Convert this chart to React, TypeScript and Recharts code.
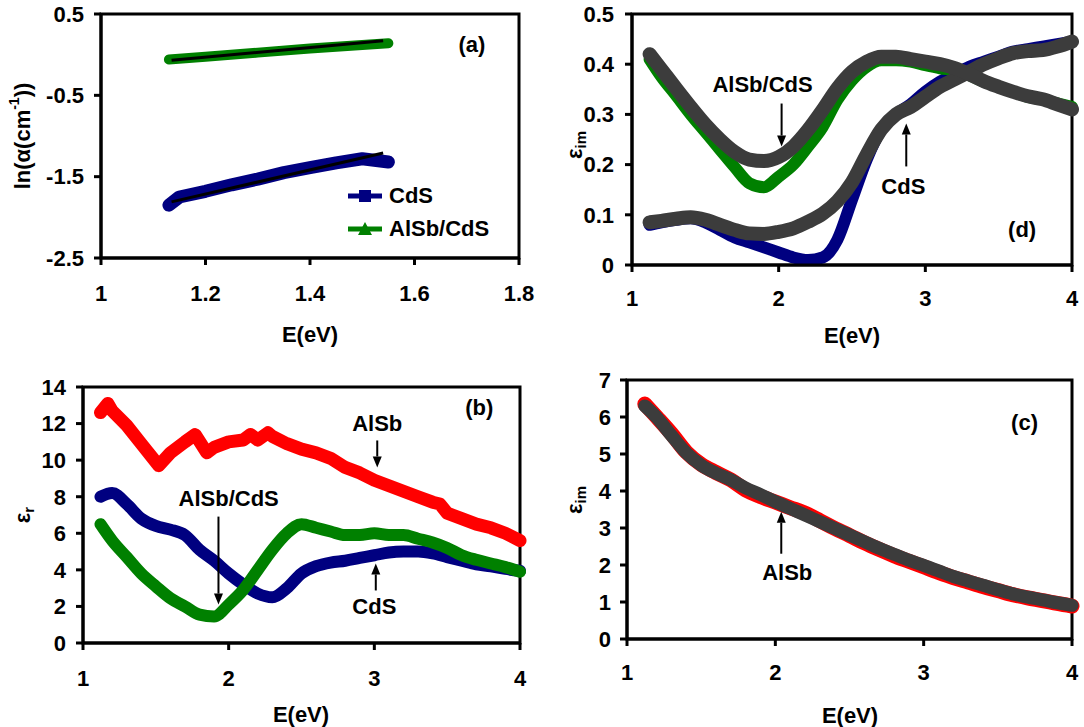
import { Legend, Line, LineChart, ReferenceArea, ReferenceDot, XAxis, YAxis } from "recharts"

const FONT = '"Liberation Sans", Arial, Helvetica, sans-serif'
const NAVY = "#000080"
const GREEN = "#008000"
const RED = "#ff0000"
const GRAY = "#3c3c3c"

// (a) ln(alpha) vs E
const absCdsE = [1.13, 1.15, 1.2, 1.25, 1.3, 1.35, 1.4, 1.45, 1.5, 1.55]
const absCdsLn = [-1.85, -1.75, -1.68, -1.6, -1.53, -1.45, -1.39, -1.33, -1.28, -1.32]
const absAlsbE = [1.13, 1.2, 1.3, 1.4, 1.5, 1.55]
const absAlsbLn = [-0.06, -0.025, 0.025, 0.075, 0.12, 0.14]
const absFitE = [1.135, 1.54]
const absCdsFit = [-1.81, -1.21]
const absAlsbFit = [-0.07, 0.17]
const absTicksX = [1, 1.2, 1.4, 1.6, 1.8]
const absTicksY = [-2.5, -1.5, -0.5, 0.5]
const legendOrder = ["CdS", "AlSb/CdS"]

// shared energy grid for (b), (c), (d)
const eGrid = [
  1.12, 1.2, 1.3, 1.4, 1.5, 1.6, 1.7, 1.8, 1.9, 2.0, 2.1, 2.2, 2.3, 2.4, 2.5,
  2.6, 2.7, 2.8, 2.9, 3.0, 3.1, 3.2, 3.3, 3.4, 3.5, 3.6, 3.7, 3.8, 3.9, 4.0,
]
const eTicks = [1, 2, 3, 4]

// (d) eps_im of CdS and AlSb/CdS with fits
const imCds = [
  0.08, 0.085, 0.09, 0.093, 0.085, 0.07, 0.055, 0.045, 0.035, 0.025, 0.015, 0.01, 0.015, 0.05, 0.13,
  0.21, 0.27, 0.3, 0.32, 0.345, 0.365, 0.38, 0.395, 0.405, 0.415, 0.425, 0.43, 0.435, 0.44, 0.445,
]
const imCdsFit = [
  0.085, 0.088, 0.092, 0.095, 0.09, 0.08, 0.07, 0.063, 0.062, 0.066, 0.073, 0.086, 0.102, 0.127, 0.165,
  0.22, 0.27, 0.3, 0.315, 0.335, 0.355, 0.37, 0.385, 0.4, 0.412, 0.422, 0.426, 0.428, 0.435, 0.445,
]
const imAlsbCds = [
  0.41, 0.375, 0.338, 0.3, 0.265, 0.23, 0.195, 0.163, 0.155, 0.176, 0.2, 0.236, 0.275, 0.329, 0.368,
  0.395, 0.408, 0.408, 0.405, 0.398, 0.392, 0.388, 0.378, 0.365, 0.355, 0.345, 0.335, 0.33, 0.322, 0.315,
]
const imAlsbCdsFit = [
  0.42, 0.39, 0.352, 0.315, 0.28, 0.25, 0.225, 0.21, 0.207, 0.215, 0.236, 0.269, 0.309, 0.352, 0.385,
  0.405, 0.415, 0.415, 0.41, 0.405, 0.4, 0.392, 0.38, 0.366, 0.355, 0.345, 0.336, 0.33, 0.32, 0.31,
]
const imTicksY = [0, 0.1, 0.2, 0.3, 0.4, 0.5]

// (b) eps_r
const reAlsbE = [
  1.12, 1.17, 1.2, 1.3, 1.4, 1.52, 1.6, 1.7, 1.77, 1.85, 1.9, 2.0, 2.1, 2.15, 2.2, 2.27, 2.3, 2.4,
  2.5, 2.6, 2.7, 2.8, 2.9, 3.0, 3.1, 3.2, 3.3, 3.4, 3.45, 3.5, 3.6, 3.7, 3.8, 3.9, 4.0,
]
const reAlsb = [
  12.6, 13.1, 12.7, 11.9, 10.9, 9.7, 10.4, 11.0, 11.4, 10.4, 10.7, 11.0, 11.1, 11.4, 11.1, 11.5, 11.3, 10.9,
  10.6, 10.4, 10.1, 9.6, 9.3, 8.9, 8.6, 8.3, 8.0, 7.7, 7.6, 7.1, 6.8, 6.5, 6.3, 6.0, 5.6,
]
const reCds = [
  8.0, 8.2, 7.6, 6.8, 6.4, 6.2, 5.9, 5.1, 4.5, 3.8, 3.2, 2.7, 2.5, 3.0, 3.8,
  4.2, 4.4, 4.5, 4.65, 4.8, 4.95, 5.0, 5.0, 4.9, 4.7, 4.5, 4.3, 4.2, 4.05, 3.95,
]
const reAlsbCds = [
  6.5, 5.6, 4.7, 3.8, 3.1, 2.45, 2.0, 1.55, 1.45, 2.1, 2.9, 4.0, 5.1, 6.0, 6.5,
  6.3, 6.1, 5.9, 5.9, 6.0, 5.9, 5.9, 5.7, 5.5, 5.2, 4.8, 4.55, 4.35, 4.15, 3.9,
]
const reTicksY = [0, 2, 4, 6, 8, 10, 12, 14]

// (c) eps_im of AlSb with fit
const imAlsb = [
  6.35, 6.0, 5.55, 5.05, 4.72, 4.5, 4.3, 4.03, 3.85, 3.7, 3.55, 3.4, 3.2, 2.99, 2.8,
  2.6, 2.42, 2.25, 2.1, 1.95, 1.8, 1.66, 1.54, 1.42, 1.31, 1.2, 1.11, 1.04, 0.96, 0.89,
]
const imAlsbFit = [
  6.3, 5.99, 5.5, 5.03, 4.7, 4.48, 4.3, 4.08, 3.9, 3.71, 3.53, 3.35, 3.17, 2.99, 2.81,
  2.63, 2.45, 2.29, 2.13, 1.99, 1.84, 1.69, 1.57, 1.45, 1.33, 1.22, 1.13, 1.06, 0.98, 0.91,
]
const alsbTicksY = [0, 1, 2, 3, 4, 5, 6, 7]

const pts = (xs: number[], ys: number[]) => xs.map((x, i) => ({ x, y: ys[i] }))

const tickStyle = { fill: "#000", fontSize: 22, fontWeight: 700, fontFamily: FONT }
const blackLine = { stroke: "#000", strokeWidth: 3 }
const textStyle = { fontFamily: FONT, fontWeight: 700, fontSize: 22, fill: "#000" }

function XTitle({ px, py }: any) {
  return (
    <text x={px} y={py} textAnchor="middle" dominantBaseline="central" style={textStyle}>
      E(eV)
    </text>
  )
}

function YTitle({ px, py, children }: any) {
  return (
    <text
      x={px}
      y={py}
      textAnchor="middle"
      dominantBaseline="central"
      transform={`rotate(-90, ${px}, ${py})`}
      style={textStyle}
    >
      {children}
    </text>
  )
}

function Note({ cx, cy, text }: any) {
  return (
    <text x={cx} y={cy} textAnchor="middle" dominantBaseline="central" style={textStyle}>
      {text}
    </text>
  )
}

// arrow with its tip at (cx, cy)
function Arrow({ cx, cy, len, up }: any) {
  const tail = up ? cy + len : cy - len
  const base = up ? cy + 11 : cy - 11
  return (
    <g>
      <line x1={cx} y1={tail} x2={cx} y2={base} stroke="#000" strokeWidth={2} />
      <path d={`M${cx},${cy} L${cx - 4.5},${base} L${cx + 4.5},${base} Z`} fill="#000" />
    </g>
  )
}

function AbsLegend({ payload }: any) {
  const items = (payload ?? [])
    .filter((p: any) => legendOrder.includes(p.value))
    .sort((a: any, b: any) => legendOrder.indexOf(a.value) - legendOrder.indexOf(b.value))
  return (
    <div style={{ fontFamily: FONT, fontWeight: 700, fontSize: 22, color: "#000" }}>
      {items.map((p: any) => (
        <div key={p.value} style={{ display: "flex", alignItems: "center", height: 33 }}>
          <svg width={38} height={16}>
            <line x1={2} y1={8} x2={36} y2={8} stroke={p.color} strokeWidth={5} />
            {p.value === "CdS" ? (
              <rect x={13} y={2} width={12} height={12} fill={p.color} />
            ) : (
              <path d="M19,1 L26,14 L12,14 Z" fill={p.color} />
            )}
          </svg>
          <span style={{ marginLeft: 5 }}>{p.value}</span>
        </div>
      ))}
    </div>
  )
}

const seriesProps = {
  dot: false,
  activeDot: false,
  isAnimationActive: false,
  strokeLinecap: "round" as const,
  strokeLinejoin: "round" as const,
}

export default function App() {
  return (
    <div style={{ position: "absolute", left: 0, top: 0, width: 1084, height: 727, background: "#fff" }}>
      {/* (a) */}
      <div style={{ position: "absolute", left: 0, top: 0 }}>
        <LineChart width={540} height={360} margin={{ top: 14, right: 21, bottom: 0, left: 0 }}>
          <XAxis
            type="number"
            dataKey="x"
            domain={[1, 1.8]}
            ticks={absTicksX}
            height={102}
            tickSize={7}
            tickMargin={20}
            tick={tickStyle}
            axisLine={blackLine}
            tickLine={blackLine}
            label={<XTitle px={310} py={334} />}
          />
          <YAxis
            type="number"
            dataKey="y"
            domain={[-2.5, 0.5]}
            ticks={absTicksY}
            width={101}
            tickSize={7}
            tickMargin={10}
            tick={tickStyle}
            axisLine={blackLine}
            tickLine={blackLine}
            label={
              <YTitle px={22} py={136}>
                ln(α(cm<tspan dy={-8} fontSize={14}>-1</tspan>
                <tspan dy={8}>))</tspan>
              </YTitle>
            }
          />
          <ReferenceArea x1={1} x2={1.8} y1={-2.5} y2={0.5} fill="none" stroke="#000" strokeWidth={3} />
          <Line data={pts(absCdsE, absCdsLn)} dataKey="y" name="CdS" stroke={NAVY} strokeWidth={13} type="linear" {...seriesProps} />
          <Line data={pts(absAlsbE, absAlsbLn)} dataKey="y" name="AlSb/CdS" stroke={GREEN} strokeWidth={10} type="linear" {...seriesProps} />
          <Line data={pts(absFitE, absCdsFit)} dataKey="y" name="CdS fit" legendType="none" stroke="#000" strokeWidth={3} type="linear" {...seriesProps} strokeLinecap="butt" />
          <Line data={pts(absFitE, absAlsbFit)} dataKey="y" name="AlSb/CdS fit" legendType="none" stroke="#000" strokeWidth={3} type="linear" {...seriesProps} strokeLinecap="butt" />
          <Legend
            layout="vertical"
            align="center"
            verticalAlign="middle"
            wrapperStyle={{ left: 346, top: 179, width: 180 }}
            content={<AbsLegend />}
          />
          <ReferenceDot x={1.71} y={0.12} r={0} shape={(p: any) => <Note cx={p.cx} cy={p.cy} text="(a)" />} />
        </LineChart>
      </div>

      {/* (d) */}
      <div style={{ position: "absolute", left: 540, top: 0 }}>
        <LineChart width={544} height={360} margin={{ top: 14, right: 12, bottom: 0, left: 0 }}>
          <XAxis
            type="number"
            dataKey="x"
            domain={[1, 4]}
            ticks={eTicks}
            height={95}
            tickSize={7}
            tickMargin={18}
            tick={tickStyle}
            axisLine={blackLine}
            tickLine={blackLine}
            label={<XTitle px={312} py={335} />}
          />
          <YAxis
            type="number"
            dataKey="y"
            domain={[0, 0.5]}
            ticks={imTicksY}
            width={92}
            tickSize={7}
            tickMargin={11}
            tick={tickStyle}
            axisLine={blackLine}
            tickLine={blackLine}
            label={
              <YTitle px={34} py={145}>
                ε<tspan dy={6} fontSize={15}>im</tspan>
              </YTitle>
            }
          />
          <ReferenceArea x1={1} x2={4} y1={0} y2={0.5} fill="none" stroke="#000" strokeWidth={3} />
          <Line data={pts(eGrid, imCds)} dataKey="y" name="CdS" stroke={NAVY} strokeWidth={12} type="monotone" {...seriesProps} />
          <Line data={pts(eGrid, imAlsbCds)} dataKey="y" name="AlSb/CdS" stroke={GREEN} strokeWidth={12} type="monotone" {...seriesProps} />
          <Line data={pts(eGrid, imCdsFit)} dataKey="y" name="CdS fit" stroke={GRAY} strokeWidth={14} type="monotone" {...seriesProps} />
          <Line data={pts(eGrid, imAlsbCdsFit)} dataKey="y" name="AlSb/CdS fit" stroke={GRAY} strokeWidth={14} type="monotone" {...seriesProps} />
          <ReferenceDot x={1.89} y={0.359} r={0} shape={(p: any) => <Note cx={p.cx} cy={p.cy} text="AlSb/CdS" />} />
          <ReferenceDot x={2.02} y={0.236} r={0} shape={(p: any) => <Arrow cx={p.cx} cy={p.cy} len={43} up={false} />} />
          <ReferenceDot x={2.85} y={0.156} r={0} shape={(p: any) => <Note cx={p.cx} cy={p.cy} text="CdS" />} />
          <ReferenceDot x={2.87} y={0.282} r={0} shape={(p: any) => <Arrow cx={p.cx} cy={p.cy} len={43} up />} />
          <ReferenceDot x={3.66} y={0.07} r={0} shape={(p: any) => <Note cx={p.cx} cy={p.cy} text="(d)" />} />
        </LineChart>
      </div>

      {/* (b) */}
      <div style={{ position: "absolute", left: 0, top: 360 }}>
        <LineChart width={540} height={367} margin={{ top: 27, right: 20, bottom: 0, left: 0 }}>
          <XAxis
            type="number"
            dataKey="x"
            domain={[1, 4]}
            ticks={eTicks}
            height={84}
            tickSize={7}
            tickMargin={20}
            tick={tickStyle}
            axisLine={blackLine}
            tickLine={blackLine}
            label={<XTitle px={301} py={354} />}
          />
          <YAxis
            type="number"
            dataKey="y"
            domain={[0, 14]}
            ticks={reTicksY}
            width={83}
            tickSize={7}
            tickMargin={10}
            tick={tickStyle}
            axisLine={blackLine}
            tickLine={blackLine}
            label={
              <YTitle px={22} py={155}>
                ε<tspan dy={6} fontSize={15}>r</tspan>
              </YTitle>
            }
          />
          <ReferenceArea x1={1} x2={4} y1={0} y2={14} fill="none" stroke="#000" strokeWidth={3} />
          <Line data={pts(reAlsbE, reAlsb)} dataKey="y" name="AlSb" stroke={RED} strokeWidth={13} type="linear" {...seriesProps} />
          <Line data={pts(eGrid, reCds)} dataKey="y" name="CdS" stroke={NAVY} strokeWidth={12} type="monotone" {...seriesProps} />
          <Line data={pts(eGrid, reAlsbCds)} dataKey="y" name="AlSb/CdS" stroke={GREEN} strokeWidth={12} type="monotone" {...seriesProps} />
          <ReferenceDot x={3.02} y={12.0} r={0} shape={(p: any) => <Note cx={p.cx} cy={p.cy} text="AlSb" />} />
          <ReferenceDot x={3.02} y={9.6} r={0} shape={(p: any) => <Arrow cx={p.cx} cy={p.cy} len={27} up={false} />} />
          <ReferenceDot x={2.0} y={7.9} r={0} shape={(p: any) => <Note cx={p.cx} cy={p.cy} text="AlSb/CdS" />} />
          <ReferenceDot x={1.93} y={2.1} r={0} shape={(p: any) => <Arrow cx={p.cx} cy={p.cy} len={88} up={false} />} />
          <ReferenceDot x={3.0} y={2.0} r={0} shape={(p: any) => <Note cx={p.cx} cy={p.cy} text="CdS" />} />
          <ReferenceDot x={3.01} y={4.35} r={0} shape={(p: any) => <Arrow cx={p.cx} cy={p.cy} len={27} up />} />
          <ReferenceDot x={3.72} y={12.9} r={0} shape={(p: any) => <Note cx={p.cx} cy={p.cy} text="(b)" />} />
        </LineChart>
      </div>

      {/* (c) */}
      <div style={{ position: "absolute", left: 540, top: 360 }}>
        <LineChart width={544} height={367} margin={{ top: 20, right: 12, bottom: 0, left: 0 }}>
          <XAxis
            type="number"
            dataKey="x"
            domain={[1, 4]}
            ticks={eTicks}
            height={88}
            tickSize={7}
            tickMargin={18}
            tick={tickStyle}
            axisLine={blackLine}
            tickLine={blackLine}
            label={<XTitle px={310} py={355} />}
          />
          <YAxis
            type="number"
            dataKey="y"
            domain={[0, 7]}
            ticks={alsbTicksY}
            width={87}
            tickSize={7}
            tickMargin={9}
            tick={tickStyle}
            axisLine={blackLine}
            tickLine={blackLine}
            label={
              <YTitle px={34} py={140}>
                ε<tspan dy={6} fontSize={15}>im</tspan>
              </YTitle>
            }
          />
          <ReferenceArea x1={1} x2={4} y1={0} y2={7} fill="none" stroke="#000" strokeWidth={3} />
          <Line data={pts(eGrid, imAlsb)} dataKey="y" name="AlSb" stroke={RED} strokeWidth={15} type="monotone" {...seriesProps} />
          <Line data={pts(eGrid, imAlsbFit)} dataKey="y" name="AlSb fit" stroke={GRAY} strokeWidth={13} type="monotone" {...seriesProps} />
          <ReferenceDot x={2.08} y={1.81} r={0} shape={(p: any) => <Note cx={p.cx} cy={p.cy} text="AlSb" />} />
          <ReferenceDot x={2.04} y={3.44} r={0} shape={(p: any) => <Arrow cx={p.cx} cy={p.cy} len={42} up />} />
          <ReferenceDot x={3.68} y={5.84} r={0} shape={(p: any) => <Note cx={p.cx} cy={p.cy} text="(c)" />} />
        </LineChart>
      </div>
    </div>
  )
}
